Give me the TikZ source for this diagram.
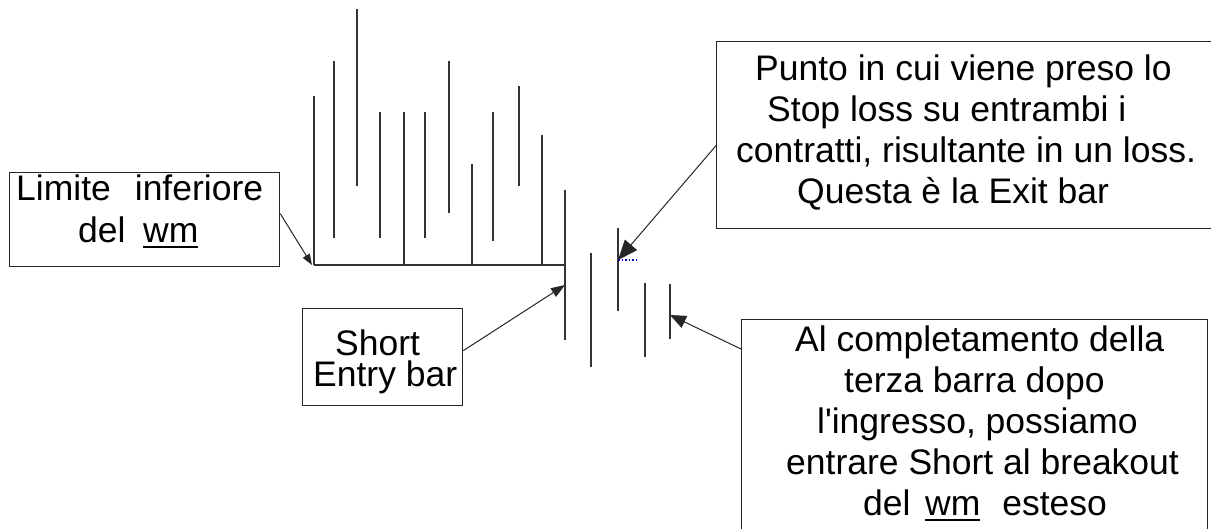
\documentclass[tikz,border=0pt]{standalone}
\usepackage{fontspec}
\setmainfont{Liberation Sans}[Ligatures=TeXOff]
\usetikzlibrary{arrows.meta}
\newcommand\ulwm[1]{\setbox0\hbox{#1}\rlap{\rule[-6pt]{\wd0}{2pt}}\box0}
\begin{document}
\begin{tikzpicture}[x=1pt,y=-1pt,
  bar/.style={line width=2pt, draw=black!80},
  box/.style={draw=black!85, line width=1.3pt, rectangle, inner sep=0pt, anchor=north west},
  txt/.style={font=\fontsize{35.5}{41}\selectfont, inner sep=0pt, anchor=base west},
  conn/.style={line width=1pt, draw=black!85}]
\useasboundingbox (0,0) rectangle (1211,528);
% bars
\foreach \x/\a/\b in {314/96/265, 334/61/238, 357/9/186, 380/112/238, 404/112/265,
  425/112/238, 449/61/213, 472/164/265, 493/112/241, 519/86/186, 542/135/265,
  565/190/340, 591/253/367, 618/228/311, 645/283/357, 670/284/339}
  \draw[bar] (\x,\a) -- (\x,\b);
\draw[bar] (314,265) -- (565,265);
\draw[blue, dotted, line width=1.5pt] (618,260) -- (637,260);
% boxes
\node[box, minimum width=270pt, minimum height=94pt] (boxL) at (9,172) {};
\node[box, minimum width=160pt, minimum height=97pt] (boxS) at (302,308) {};
\node[box, minimum width=600pt, minimum height=187pt] (boxT) at (716,41) {};
\node[box, minimum width=466pt, minimum height=260pt] (boxB) at (741,319) {};
% texts
\node[txt] (l1) at (16,200) {Limite\hspace{24pt}inferiore};
\node[txt] (l2) at (78,242) {del\hspace{17.6pt}\ulwm{wm}};
\node[txt] (s1) at (335,355) {Short};
\node[txt] (s2) at (313,386) {Entry bar};
\node[txt] (t1) at (755,80) {Punto in cui viene preso lo};
\node[txt] (t2) at (767,121) {Stop loss su entrambi i};
\node[txt] (t3) at (736,162) {contratti, risultante in un loss.};
\node[txt] (t4) at (797,203) {Questa è la Exit bar};
\node[txt] (b1) at (795,351) {Al completamento della};
\node[txt] (b2) at (844,392) {terza barra dopo};
\node[txt] (b3) at (817,433) {l'ingresso, possiamo};
\node[txt] (b4) at (786,474) {entrare Short al breakout};
\node[txt] (b5) at (863,515) {del\hspace{14.6pt}\ulwm{wm}\hspace{22pt}esteso};
% arrow targets
\coordinate (tL) at (312,265);
\coordinate (tS) at (565,285);
\coordinate (tT) at (618,260);
\coordinate (tB) at (670,315);
% connectors
\draw[conn, -{Triangle[length=11pt,width=8pt]}] ([yshift=6pt]boxL.east) -- (tL);
\draw[conn, -{Triangle[length=14pt,width=10pt]}] ([yshift=6.5pt]boxS.east) -- (tS);
\draw[conn, -{Triangle[length=20pt,width=16pt]}] ([yshift=-10.5pt]boxT.west) -- (tT);
\draw[conn, -{Triangle[length=16pt,width=13pt]}] ([yshift=-30pt]boxB.north west) -- (tB);
\end{tikzpicture}
\end{document}
